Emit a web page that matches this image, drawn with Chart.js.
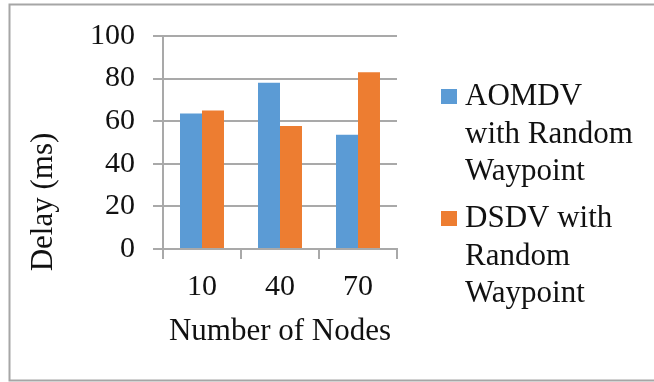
<!DOCTYPE html>
<html>
<head>
<meta charset="utf-8">
<script src="https://cdn.jsdelivr.net/npm/chart.js@4.4.1/dist/chart.umd.min.js"></script>
<style>
  html, body { margin: 0; padding: 0; background: #ffffff; }
  canvas { display: block; }
</style>
</head>
<body>
<canvas id="delayChart" width="654" height="382" style="width:654px;height:382px"></canvas>
<script>
// Number of nodes on the x axis
const nodeCounts = ['10', '40', '70'];
// End-to-end delay (ms) for each protocol
const aomdvDelay = [63.6, 78, 53.6];
const dsdvDelay = [65, 57.8, 83];
const seriesNames = ['AOMDV with Random Waypoint', 'DSDV with Random Waypoint'];
const yAxisTitle = 'Delay (ms)';
const xAxisTitle = 'Number of Nodes';

const SERIF = '"Liberation Serif", "Times New Roman", serif';
const TEXT = '#111111';
const GRID = '#a9a9a9';

function wrapWords(ctx, text, maxWidth) {
  const words = text.split(' ');
  const lines = [];
  let line = '';
  for (const w of words) {
    const trial = line ? line + ' ' + w : w;
    if (line && ctx.measureText(trial).width > maxWidth) {
      lines.push(line);
      line = w;
    } else {
      line = trial;
    }
  }
  if (line) lines.push(line);
  return lines;
}

// Frame, rotated y title and the wrapped legend on the right
const decorations = {
  id: 'decorations',
  beforeDraw(chart) {
    const ctx = chart.ctx;
    ctx.save();
    ctx.fillStyle = '#ffffff';
    ctx.fillRect(0, 0, chart.width, chart.height);
    ctx.strokeStyle = '#a6a6a6';
    ctx.lineWidth = 2;
    ctx.beginPath();
    ctx.moveTo(chart.width + 2, 4.5);
    ctx.lineTo(9.5, 4.5);
    ctx.lineTo(9.5, 380.5);
    ctx.lineTo(chart.width + 2, 380.5);
    ctx.stroke();
    ctx.restore();
  },
  afterDraw(chart) {
    const ctx = chart.ctx;
    ctx.save();
    // y axis title
    ctx.font = '31px ' + SERIF;
    ctx.fillStyle = TEXT;
    ctx.textAlign = 'center';
    ctx.textBaseline = 'middle';
    ctx.translate(44, 202);
    ctx.rotate(-Math.PI / 2);
    ctx.fillText(yAxisTitle, 0, 0);
    ctx.restore();

    // legend
    ctx.save();
    ctx.font = '31px ' + SERIF;
    ctx.textAlign = 'left';
    ctx.textBaseline = 'alphabetic';
    const lineH = 37.5;
    const itemGap = 9.5;
    let baseline = 105;
    chart.data.datasets.forEach((ds) => {
      const lines = wrapWords(ctx, ds.label, 176);
      ctx.fillStyle = ds.backgroundColor;
      ctx.fillRect(441, baseline - 16, 16, 15);
      ctx.fillStyle = TEXT;
      lines.forEach((ln, i) => ctx.fillText(ln, 465, baseline + i * lineH));
      baseline += lines.length * lineH + itemGap;
    });
    ctx.restore();
  }
};

new Chart(document.getElementById('delayChart'), {
  type: 'bar',
  data: {
    labels: nodeCounts,
    datasets: [
      { label: seriesNames[0], data: aomdvDelay, backgroundColor: '#5b9bd5', borderWidth: 0 },
      { label: seriesNames[1], data: dsdvDelay, backgroundColor: '#ed7d31', borderWidth: 0 }
    ]
  },
  options: {
    responsive: false,
    animation: false,
    devicePixelRatio: 1,
    layout: { padding: { left: 0, top: 17, right: 257, bottom: 0 } },
    datasets: { bar: { categoryPercentage: 0.564, barPercentage: 1.0 } },
    plugins: { legend: { display: false }, tooltip: { enabled: false } },
    scales: {
      x: {
        grid: { drawOnChartArea: false, drawTicks: true, tickLength: 10, color: GRID, lineWidth: 2, offset: true },
        border: { display: true, color: GRID, width: 2 },
        ticks: { color: TEXT, font: { family: SERIF, size: 30 }, padding: 10, maxRotation: 0 },
        title: { display: true, text: xAxisTitle, color: TEXT, font: { family: SERIF, size: 31 }, padding: { top: 0, bottom: 32 } },
        afterFit(scale) { scale.height = 133; }
      },
      y: {
        min: 0,
        max: 100,
        ticks: { stepSize: 20, color: TEXT, font: { family: SERIF, size: 30 }, padding: 18 },
        grid: { color: GRID, lineWidth: 2, tickLength: 10 },
        border: { display: true, color: GRID, width: 2 },
        afterFit(scale) { scale.width = 163; }
      }
    }
  },
  plugins: [decorations]
});
</script>
</body>
</html>
